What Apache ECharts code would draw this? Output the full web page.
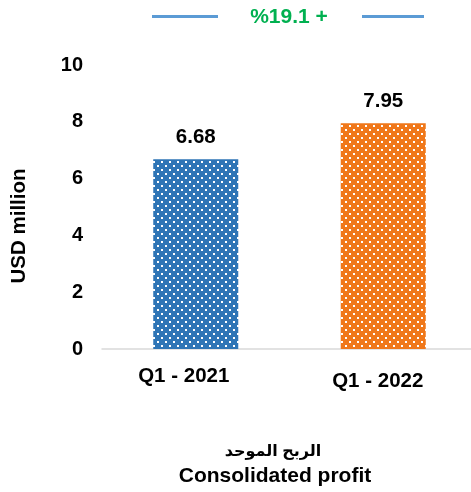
<!DOCTYPE html>
<html>
<head>
<meta charset="utf-8">
<script src="https://cdn.jsdelivr.net/npm/echarts@6/dist/echarts.min.js"></script>
<style>
html,body{margin:0;padding:0;background:#fff;}
#chart{width:471px;height:492px;}
</style>
</head>
<body>
<div id="chart"></div>
<script>
const categories = ['Q1 - 2021', 'Q1 - 2022'];
const values = [6.68, 7.95];
const changeLabel = '%19.1 +';
const titleAr = 'الربح الموحد';
const titleEn = 'Consolidated profit';
const yAxisName = 'USD million';

const FONT = '"Liberation Sans", Arial, "DejaVu Sans", sans-serif';

function dotPattern(bg) {
  const c = document.createElement('canvas');
  c.width = 8; c.height = 8;
  const g = c.getContext('2d');
  g.fillStyle = bg; g.fillRect(0, 0, 8, 8);
  g.fillStyle = '#ffffff';
  g.fillRect(1, 1, 2, 2);
  g.fillRect(5, 5, 2, 2);
  return c;
}
const barColors = ['#2E75B6', '#F0781A'];
const catPadding = [[0, 24, 0, 0], [5, 11, 0, 0]];

const chart = echarts.init(document.getElementById('chart'), null, {renderer: 'canvas'});
chart.setOption({
  animation: false,
  backgroundColor: '#ffffff',
  grid: {left: 102, top: 65, width: 375, height: 284, containLabel: false, outerBoundsMode: 'none'},
  xAxis: {
    type: 'category',
    data: categories.map((c, i) => ({value: c, textStyle: {padding: catPadding[i]}})),
    axisLine: {show: true, lineStyle: {color: '#D9D9D9', width: 1.5}},
    axisTick: {show: false},
    axisLabel: {margin: 17, color: '#000', fontSize: 20.5, fontWeight: 'bold', fontFamily: FONT}
  },
  yAxis: {
    type: 'value', min: 0, max: 10, interval: 2,
    axisLine: {show: false}, axisTick: {show: false}, splitLine: {show: false},
    axisLabel: {margin: 19, color: '#000', fontSize: 20, fontWeight: 'bold', fontFamily: FONT}
  },
  series: [{
    type: 'bar',
    barWidth: 85,
    data: values.map((v, i) => ({value: v, itemStyle: {color: {image: dotPattern(barColors[i]), repeat: 'repeat'}}})),
    label: {show: true, position: 'top', distance: 11, color: '#000', fontSize: 20.5, fontWeight: 'bold', fontFamily: FONT,
      formatter: p => p.value.toFixed(2)}
  }],
  graphic: [
    {type: 'line', shape: {x1: 152, y1: 16.5, x2: 218, y2: 16.5}, style: {stroke: '#5B9BD5', lineWidth: 3}},
    {type: 'line', shape: {x1: 362, y1: 16.5, x2: 424, y2: 16.5}, style: {stroke: '#5B9BD5', lineWidth: 3}},
    {type: 'text', x: 289, y: 17, style: {text: changeLabel, fill: '#00B050', font: 'bold 21px ' + FONT, align: 'center', verticalAlign: 'middle'}},
    {type: 'text', x: 19.5, y: 226, rotation: Math.PI / 2, style: {text: yAxisName, fill: '#000', font: 'bold 20.5px ' + FONT, align: 'center', verticalAlign: 'middle'}},
    {type: 'text', x: 273, y: 452, style: {text: titleAr, fill: '#000', font: 'bold 16px ' + FONT, align: 'center', verticalAlign: 'middle'}},
    {type: 'text', x: 275, y: 476.5, style: {text: titleEn, fill: '#000', font: 'bold 21px ' + FONT, align: 'center', verticalAlign: 'middle'}}
  ]
});
</script>
</body>
</html>
